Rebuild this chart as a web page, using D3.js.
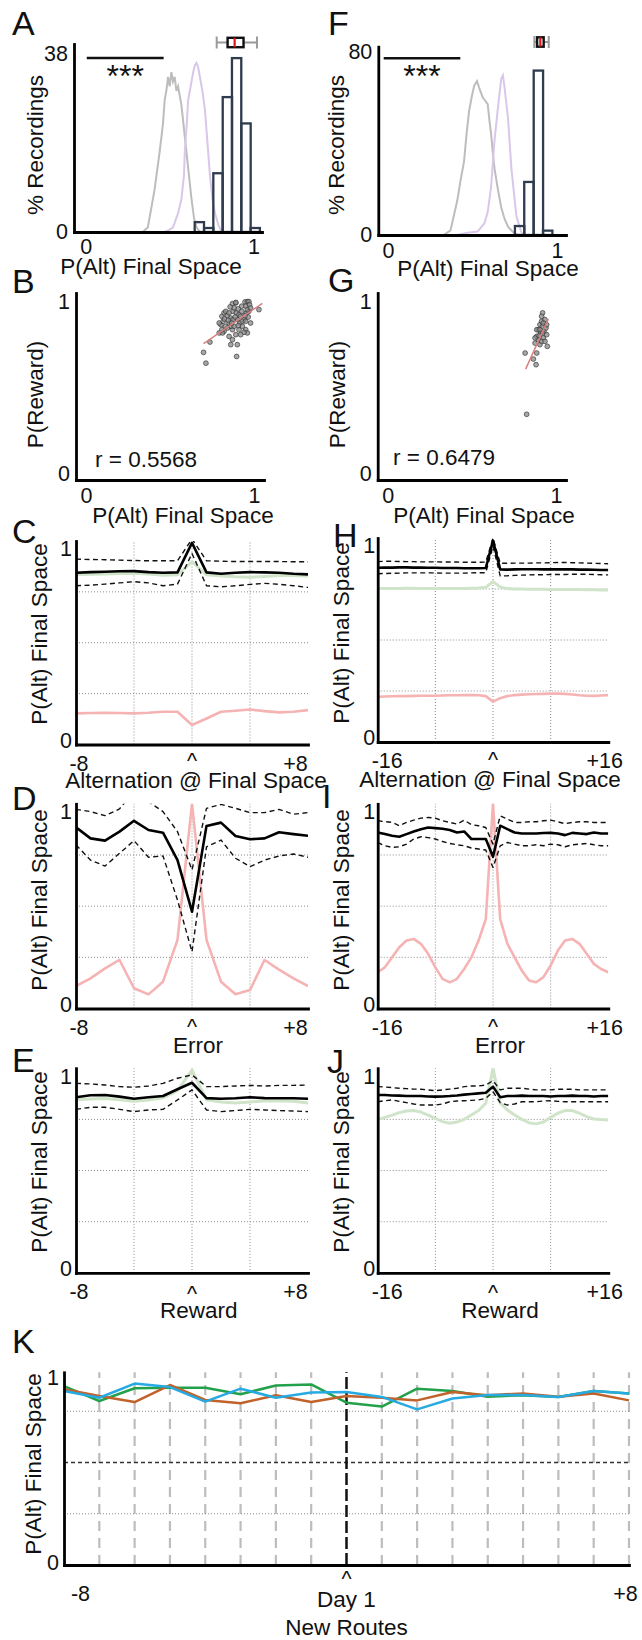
<!DOCTYPE html>
<html>
<head>
<meta charset="utf-8">
<title>P(Alt) Final Space</title>
<script src="https://cdnjs.cloudflare.com/ajax/libs/d3/7.8.5/d3.min.js"></script>
<style>
	body{margin:0;background:#fff}
</style>
</head>
<body>
<div id="fig"></div>
<script>
var FONT="'Liberation Sans', Arial, Helvetica, sans-serif"

// A / F : % recordings per P(Alt) bin
var binW=0.0555
var aBins=[0.649,0.705,0.760,0.816,0.871,0.927,0.982]
var aPct=[2.1,0.85,12.5,28.7,37,23.1,0.85]
var fBins=[0.751,0.806,0.862,0.917]
var fPct=[3.9,23.1,71.6,1.9]
var aYTicks=[0,38], fYTicks=[0,80]
var histXTicks=[0,1]
// shuffled null distributions [P(Alt), %]
var aNullGray=[[0.34,0],[0.37,1],[0.39,5],[0.41,9],[0.44,17],[0.46,23],[0.47,28],[0.48,30],[0.49,33],[0.50,31],[0.51,34],[0.52,32],[0.53,33],[0.54,30],[0.55,31],[0.56,29],[0.57,27],[0.585,22],[0.60,17],[0.615,12],[0.63,7],[0.645,3],[0.66,1],[0.68,0]]
var aNullPurple=[[0.47,0],[0.50,0.5],[0.52,1],[0.55,4],[0.57,7],[0.585,12],[0.59,17],[0.60,22],[0.61,28],[0.62,30],[0.63,32],[0.64,34],[0.65,35.5],[0.66,36],[0.67,35],[0.68,33],[0.695,30],[0.71,26],[0.725,19],[0.74,12],[0.755,7],[0.77,4],[0.79,1.5],[0.81,0]]
var fNullGray=[[0.33,0],[0.37,2],[0.41,15],[0.43,24],[0.45,32],[0.465,44],[0.48,54],[0.495,60],[0.51,65],[0.527,67],[0.54,64],[0.55,62],[0.56,60],[0.57,59],[0.58,58],[0.59,57],[0.60,50],[0.61,44],[0.62,36],[0.63,29],[0.65,20],[0.67,12],[0.69,7],[0.71,3.6],[0.75,0.5],[0.78,0]]
var fNullPurple=[[0.41,0],[0.47,1],[0.53,1.5],[0.57,5],[0.59,10],[0.61,21],[0.63,41],[0.65,55],[0.67,68],[0.68,69.5],[0.69,64],[0.71,51],[0.73,29],[0.76,8],[0.79,1],[0.81,0]]
// box: whisker lo, q1, median, q3, whisker hi
var aBox=[0.78,0.845,0.887,0.94,1.02]
var fBox=[0.866,0.882,0.901,0.921,0.951]
// significance bar: x from, x to, height (%)
var aSig=[0.006,0.464,37]
var fSig=[-0.025,0.428,77]

// B / G : P(Reward) vs P(Alt)
var bPoints=[[0.700,0.704],[0.714,0.641],[0.738,0.764],[0.793,0.817],[0.803,0.865],[0.809,0.914],[0.817,0.885],[0.822,0.934],[0.832,0.943],[0.842,0.918],[0.852,0.934],[0.862,0.904],[0.872,0.988],[0.876,0.943],[0.882,0.963],[0.892,0.992],[0.895,0.934],[0.901,0.895],[0.907,0.957],[0.911,0.924],[0.915,0.875],[0.921,0.914],[0.927,0.943],[0.931,0.856],[0.941,0.895],[0.947,0.998],[0.951,0.973],[0.955,0.934],[0.961,1.0],[0.966,0.910],[0.970,1.0],[0.974,0.982],[0.951,0.836],[0.961,0.817],[0.941,0.821],[0.921,0.807],[0.892,0.807],[0.872,0.836],[0.862,0.856],[0.852,0.875],[0.842,0.846],[0.832,0.856],[0.822,0.827],[0.813,0.817],[0.809,0.836],[0.852,0.797],[0.872,0.778],[0.862,0.749],[0.901,0.749],[0.897,0.680],[0.882,0.856],[0.911,0.836],[0.931,0.885],[0.980,0.875],[1.030,0.953],[0.951,0.885],[0.970,0.943],[0.876,0.895],[0.793,0.875],[0.824,0.899],[0.848,0.891],[0.868,0.875],[0.888,0.910],[0.907,0.860],[0.927,0.973],[0.947,0.918],[0.961,0.953],[0.980,0.963],[0.892,0.995],[0.858,0.969]]
var gPoints=[[0.921,0.934],[0.826,0.343],[0.817,0.700],[0.886,0.700],[0.866,0.665],[0.882,0.632],[0.949,0.739],[0.876,0.758],[0.886,0.797],[0.895,0.836],[0.905,0.865],[0.909,0.817],[0.915,0.885],[0.921,0.856],[0.925,0.788],[0.929,0.827],[0.935,0.895],[0.941,0.846],[0.945,0.807],[0.895,0.778],[0.905,0.749],[0.915,0.768],[0.935,0.768],[0.876,0.788],[0.886,0.836],[0.915,0.914],[0.925,0.875],[0.901,0.801],[0.945,0.865],[0.921,0.817],[0.905,0.836]]
var bFit=[0.67,0.286], gFit=[2.17,-1.173]   // slope, intercept
var bFitX=[0.70,1.05], gFitX=[0.82,0.955]
var bR='r = 0.5568', gR='r = 0.6479'
var scatTicks=[0,1]

// C..J : P(Alt) around an event, lag in trials
var lags8=[-8,-7,-6,-5,-4,-3,-2,-1,0,1,2,3,4,5,6,7,8]
var lags16=[-16,-15,-14,-13,-12,-11,-10,-9,-8,-7,-6,-5,-4,-3,-2,-1,0,1,2,3,4,5,6,7,8,9,10,11,12,13,14,15,16]
var traceYTicks=[0,1]
var hGridY=[0.25,0.5,0.75]

var cBlack=[0.844,0.847,0.849,0.851,0.852,0.847,0.844,0.846,0.991,0.846,0.839,0.844,0.847,0.846,0.844,0.839,0.836]
var cUpper=[0.911,0.909,0.908,0.906,0.904,0.903,0.903,0.903,1.01,0.903,0.901,0.899,0.899,0.899,0.899,0.898,0.898]
var cLower=[0.780,0.783,0.788,0.794,0.800,0.794,0.780,0.788,0.939,0.780,0.775,0.780,0.787,0.792,0.787,0.780,0.772]
var cGreen=[0.835,0.836,0.838,0.840,0.842,0.838,0.832,0.834,0.898,0.834,0.828,0.824,0.822,0.826,0.830,0.830,0.828]
var cPink=[0.153,0.155,0.156,0.155,0.153,0.156,0.161,0.161,0.096,0.128,0.161,0.166,0.172,0.164,0.158,0.161,0.169]

var dBlack=[0.885,0.831,0.820,0.864,0.917,0.872,0.859,0.725,0.473,0.892,0.908,0.843,0.827,0.831,0.861,0.852,0.844]
var dUpper=[0.973,0.962,0.942,0.975,1.06,1.01,0.962,0.864,0.677,0.978,0.997,0.978,0.957,0.957,0.973,0.949,0.957]
var dLower=[0.799,0.725,0.696,0.758,0.820,0.739,0.745,0.530,0.277,0.790,0.823,0.734,0.693,0.725,0.745,0.755,0.739]
var dPink=[0.110,0.147,0.196,0.237,0.099,0.069,0.131,0.335,1.0,0.335,0.131,0.070,0.090,0.237,0.190,0.147,0.110]

var eBlack=[0.858,0.868,0.869,0.861,0.851,0.858,0.864,0.897,0.929,0.854,0.851,0.853,0.858,0.854,0.853,0.853,0.851]
var eUpper=[0.926,0.923,0.918,0.910,0.907,0.913,0.926,0.951,0.967,0.910,0.910,0.913,0.916,0.913,0.916,0.916,0.918]
var eLower=[0.799,0.809,0.809,0.799,0.788,0.796,0.799,0.845,0.894,0.796,0.788,0.793,0.799,0.796,0.793,0.791,0.788]
var eGreen=[0.846,0.850,0.852,0.846,0.838,0.845,0.855,0.890,0.991,0.846,0.835,0.830,0.835,0.840,0.840,0.838,0.830]

var hBlack=[0.854,0.855,0.855,0.856,0.856,0.855,0.855,0.854,0.854,0.853,0.853,0.853,0.852,0.852,0.852,0.853,0.987,0.846,0.845,0.846,0.847,0.847,0.847,0.846,0.846,0.847,0.846,0.846,0.845,0.845,0.844,0.843,0.843]
var hUpper=[0.884,0.886,0.886,0.885,0.884,0.884,0.883,0.883,0.883,0.882,0.882,0.882,0.881,0.881,0.881,0.882,1.0,0.876,0.876,0.877,0.877,0.877,0.878,0.878,0.879,0.880,0.880,0.879,0.878,0.877,0.876,0.875,0.874]
var hLower=[0.825,0.826,0.827,0.828,0.829,0.829,0.829,0.829,0.829,0.828,0.828,0.828,0.828,0.829,0.830,0.830,0.96,0.814,0.815,0.817,0.818,0.819,0.820,0.820,0.821,0.821,0.821,0.822,0.822,0.822,0.821,0.820,0.819]
var hGreen=[0.752,0.752,0.753,0.753,0.754,0.754,0.753,0.753,0.752,0.752,0.752,0.753,0.753,0.754,0.755,0.758,0.786,0.760,0.752,0.750,0.750,0.749,0.749,0.749,0.748,0.748,0.748,0.747,0.747,0.746,0.746,0.745,0.745]
var hPink=[0.222,0.223,0.224,0.225,0.225,0.226,0.227,0.227,0.227,0.228,0.229,0.229,0.230,0.230,0.229,0.225,0.198,0.215,0.225,0.230,0.232,0.234,0.235,0.236,0.237,0.237,0.236,0.233,0.229,0.227,0.226,0.228,0.230]

var iBlack=[0.860,0.852,0.844,0.839,0.852,0.865,0.876,0.884,0.881,0.878,0.872,0.860,0.865,0.828,0.828,0.828,0.741,0.893,0.876,0.860,0.855,0.855,0.855,0.857,0.858,0.855,0.847,0.858,0.855,0.852,0.860,0.855,0.855]
var iUpper=[0.917,0.913,0.909,0.893,0.909,0.920,0.930,0.933,0.930,0.917,0.909,0.901,0.920,0.898,0.893,0.884,0.803,0.941,0.925,0.909,0.909,0.912,0.912,0.917,0.920,0.912,0.903,0.909,0.912,0.912,0.909,0.909,0.909]
var iLower=[0.811,0.795,0.787,0.790,0.803,0.828,0.839,0.835,0.828,0.816,0.806,0.800,0.795,0.784,0.779,0.774,0.689,0.795,0.811,0.803,0.795,0.795,0.800,0.795,0.803,0.800,0.790,0.800,0.803,0.806,0.800,0.795,0.795]
var iPink=[0.177,0.201,0.250,0.299,0.332,0.340,0.316,0.267,0.201,0.145,0.128,0.145,0.193,0.250,0.332,0.437,1.0,0.437,0.316,0.250,0.185,0.137,0.128,0.153,0.210,0.283,0.332,0.340,0.316,0.267,0.218,0.193,0.177]

var jBlack=[0.869,0.869,0.867,0.866,0.864,0.864,0.864,0.862,0.861,0.862,0.864,0.867,0.871,0.874,0.877,0.880,0.910,0.858,0.864,0.864,0.866,0.864,0.864,0.864,0.862,0.864,0.864,0.866,0.864,0.864,0.862,0.864,0.864]
var jUpper=[0.910,0.908,0.905,0.902,0.900,0.898,0.897,0.894,0.890,0.894,0.898,0.902,0.910,0.913,0.913,0.918,0.939,0.894,0.902,0.902,0.902,0.898,0.894,0.894,0.894,0.897,0.897,0.897,0.894,0.894,0.894,0.894,0.894]
var jLower=[0.836,0.841,0.845,0.838,0.832,0.825,0.820,0.820,0.820,0.825,0.836,0.840,0.841,0.843,0.845,0.853,0.885,0.832,0.820,0.825,0.836,0.836,0.836,0.840,0.841,0.838,0.836,0.836,0.836,0.836,0.836,0.836,0.836]
var jGreen=[0.750,0.760,0.771,0.783,0.791,0.793,0.786,0.771,0.755,0.739,0.731,0.737,0.750,0.771,0.793,0.829,0.999,0.829,0.796,0.771,0.750,0.734,0.728,0.737,0.760,0.780,0.793,0.793,0.780,0.763,0.752,0.749,0.747]

// K : three animals around the first day of new routes
var kGreen=[0.873,0.800,0.862,0.865,0.865,0.833,0.876,0.881,0.792,0.773,0.860,0.849,0.821,0.828,0.820,0.849,0.837]
var kOrange=[0.857,0.824,0.795,0.878,0.805,0.789,0.828,0.795,0.824,0.816,0.803,0.844,0.828,0.837,0.821,0.837,0.803]
var kBlue=[0.849,0.816,0.885,0.868,0.797,0.860,0.816,0.841,0.844,0.820,0.759,0.812,0.829,0.829,0.820,0.849,0.837]

var styles={
	mean:{stroke:'#000',w:2.6,dash:null},
	dash:{stroke:'#111',w:1.4,dash:'5,3.5'},
	pink:{stroke:'#f5b3b3',w:2.6,dash:null},
	green:{stroke:'#cfe4c8',w:3,dash:null}
}

var svg=d3.select('#fig').append('svg')
	.attr('width',642).attr('height',1640)
	.attr('font-family',FONT)
	.style('background','#fff')

function txt(g,x,y,s,size,anchor){
	return g.append('text').attr('x',x).attr('y',y)
		.attr('font-size',size).attr('text-anchor',anchor||'middle')
		.attr('fill','#111').text(s)
}
function ylab(g,cx,cy,s){
	g.append('text').attr('transform','translate('+cx+','+cy+') rotate(-90)')
		.attr('text-anchor','middle').attr('dy','0.26em')
		.attr('font-size',22.5).attr('fill','#111').text(s)
}
function styleAxis(sel){
	sel.attr('font-size',21.5).attr('font-family',FONT)
	sel.select('.domain').attr('stroke','#000').attr('stroke-width',2.8).attr('stroke-linecap','square')
	sel.selectAll('text').attr('fill','#111')
}
function signed(d){ return d>0 ? '+'+d : String(d) }

var draw={
	hist:function(p){
		var g=svg.append('g')
		var x=d3.scaleLinear().domain(p.xd).range([p.x0,p.x1])
		var y=d3.scaleLinear().domain(p.yd).range([p.y0,p.y1])
		var ln=d3.line().x(function(d){return x(d[0])}).y(function(d){return y(d[1])})
		g.append('path').attr('d',ln(p.gray)).attr('fill','none').attr('stroke','#bdbdbd').attr('stroke-width',2)
		g.append('path').attr('d',ln(p.purple)).attr('fill','none').attr('stroke','#d9c7e9').attr('stroke-width',2)
		g.selectAll('rect.bar').data(p.pct).enter().append('rect').attr('class','bar')
			.attr('x',function(d,i){return x(p.bins[i])})
			.attr('width',function(d,i){return x(p.bins[i]+binW)-x(p.bins[i])})
			.attr('y',function(d){return y(d)})
			.attr('height',function(d){return y(0)-y(d)})
			.attr('fill','none').attr('stroke','#2e3c4d').attr('stroke-width',2.3)

		var ya=g.append('g').attr('transform','translate('+p.x0+',0)')
			.call(d3.axisLeft(y).tickValues(p.yticks).tickSize(0).tickPadding(6).tickFormat(String))
		var xa=g.append('g').attr('transform','translate(0,'+p.y0+')')
			.call(d3.axisBottom(x).tickValues(histXTicks).tickSize(0).tickPadding(p.xpad).tickFormat(String))
		styleAxis(ya); styleAxis(xa)

		// box plot over the histogram
		var b=p.box, by=p.boxY
		g.append('line').attr('x1',x(b[0])).attr('x2',x(b[4])).attr('y1',by).attr('y2',by)
			.attr('stroke','#9a9a9a').attr('stroke-width',2)
		g.selectAll('line.cap').data([b[0],b[4]]).enter().append('line').attr('class','cap')
			.attr('x1',function(d){return x(d)}).attr('x2',function(d){return x(d)})
			.attr('y1',by-6).attr('y2',by+6).attr('stroke','#9a9a9a').attr('stroke-width',2)
		g.append('rect').attr('x',x(b[1])).attr('width',x(b[3])-x(b[1]))
			.attr('y',by-4.7).attr('height',9.4)
			.attr('fill','#fff').attr('stroke','#111').attr('stroke-width',2.4)
		g.append('line').attr('x1',x(b[2])).attr('x2',x(b[2])).attr('y1',by-4.7).attr('y2',by+4.7)
			.attr('stroke','#e3141b').attr('stroke-width',2.2)

		// significance
		g.append('line').attr('x1',x(p.sig[0])).attr('x2',x(p.sig[1]))
			.attr('y1',y(p.sig[2])).attr('y2',y(p.sig[2]))
			.attr('stroke','#111').attr('stroke-width',2.5)
		txt(g,(x(p.sig[0])+x(p.sig[1]))/2,y(p.sig[2])+29,'***',32)

		txt(g,p.xlabX,p.xlabY,'P(Alt) Final Space',22.5)
		ylab(g,p.ylabX,p.ylabY,'% Recordings')
	},
	scatter:function(p){
		var g=svg.append('g')
		var x=d3.scaleLinear().domain([-0.06,1.06]).range([p.x0,p.x1])
		var y=d3.scaleLinear().domain([-0.04,1.05]).range([480,293])
		g.selectAll('circle').data(p.pts).enter().append('circle')
			.attr('cx',function(d){return x(d[0])}).attr('cy',function(d){return y(d[1])})
			.attr('r',2.4).attr('fill','#8a8a8a').attr('fill-opacity',0.75)
			.attr('stroke','#3a3a3a').attr('stroke-width',0.7)
		g.append('line')
			.attr('x1',x(p.fitX[0])).attr('y1',y(p.fit[0]*p.fitX[0]+p.fit[1]))
			.attr('x2',x(p.fitX[1])).attr('y2',y(p.fit[0]*p.fitX[1]+p.fit[1]))
			.attr('stroke','#d98080').attr('stroke-width',1.5)
		var ya=g.append('g').attr('transform','translate('+p.x0+',0)')
			.call(d3.axisLeft(y).tickValues(scatTicks).tickSize(0).tickPadding(6).tickFormat(String))
		var xa=g.append('g').attr('transform','translate(0,480)')
			.call(d3.axisBottom(x).tickValues(scatTicks).tickSize(0).tickPadding(8).tickFormat(String))
		styleAxis(ya); styleAxis(xa)
		txt(g,p.rX,p.rY,p.r,22.5,'start')
		txt(g,p.xlabX,522.5,'P(Alt) Final Space',22.5)
		ylab(g,p.ylabX,394.5,'P(Reward)')
	},
	trace:function(p){
		var g=svg.append('g')
		var lags=p.lags, lo=lags[0], hi=lags[lags.length-1]
		var x=d3.scaleLinear().domain([lo,hi]).range([p.x0,p.x1])
		var y=d3.scaleLinear().domain([0,1]).range([p.y0,p.y1])
		svg.append('clipPath').attr('id','clip'+p.id).append('rect')
			.attr('x',p.x0).attr('y',p.y1).attr('width',p.x1-p.x0).attr('height',p.y0-p.y1)

		g.selectAll('line.hg').data(hGridY).enter().append('line').attr('class','hg')
			.attr('x1',p.x0).attr('x2',p.x1)
			.attr('y1',function(d){return y(d)}).attr('y2',function(d){return y(d)})
			.attr('stroke','#8c8c8c').attr('stroke-width',1).attr('stroke-dasharray','1,2')
		g.selectAll('line.vg').data([lo/2,0,hi/2]).enter().append('line').attr('class','vg')
			.attr('x1',function(d){return x(d)}).attr('x2',function(d){return x(d)})
			.attr('y1',p.y0).attr('y2',p.y1)
			.attr('stroke','#8c8c8c').attr('stroke-width',1).attr('stroke-dasharray','1,2')

		var line=d3.line().x(function(d,i){return x(lags[i])}).y(function(d){return y(d)})
		var lines=g.append('g').attr('clip-path','url(#clip'+p.id+')')
		p.series.forEach(function(s){
			var st=styles[s[1]]
			lines.append('path').attr('d',line(s[0])).attr('fill','none')
				.attr('stroke',st.stroke).attr('stroke-width',st.w)
				.attr('stroke-dasharray',st.dash).attr('stroke-linejoin','round')
		})

		var ya=g.append('g').attr('transform','translate('+p.x0+',0)')
			.call(d3.axisLeft(y).tickValues(traceYTicks).tickSize(0).tickPadding(p.ypad).tickFormat(String))
		var xa=g.append('g').attr('transform','translate(0,'+p.y0+')')
			.call(d3.axisBottom(x).tickValues([lo,hi]).tickSize(0).tickPadding(11).tickFormat(signed))
		styleAxis(ya); styleAxis(xa)
		ya.selectAll('text').attr('dy',function(d){return d ? '0.69em' : '0.13em'})
		xa.selectAll('text').attr('dx',function(d){return d<0 ? p.dxL : p.dxR})

		txt(g,x(0),p.caretY,'^',21.5)
		txt(g,p.xlabX,p.xlabY,p.xlab,22.5)
		ylab(g,p.ylabX,p.ylabY,'P(Alt) Final Space')
	},
	routes:function(){
		var g=svg.append('g')
		var x=d3.scaleLinear().domain([-8,8]).range([64,629])
		var y=d3.scaleLinear().domain([0,1]).range([1565,1360])
		var top=0.94
		g.selectAll('line.day').data(lags8.filter(function(d){return d>-8 && d!==0})).enter().append('line').attr('class','day')
			.attr('x1',function(d){return x(d)}).attr('x2',function(d){return x(d)})
			.attr('y1',y(0)).attr('y2',y(top))
			.attr('stroke','#bdbdbd').attr('stroke-width',2.2).attr('stroke-dasharray','10,7')
		g.selectAll('line.hg').data(hGridY).enter().append('line').attr('class','hg')
			.attr('x1',x(-8)).attr('x2',x(8))
			.attr('y1',function(d){return y(d)}).attr('y2',function(d){return y(d)})
			.attr('stroke',function(d){return d===0.5 ? '#333' : '#8c8c8c'})
			.attr('stroke-width',function(d){return d===0.5 ? 1.4 : 1})
			.attr('stroke-dasharray',function(d){return d===0.5 ? '4,3' : '1,2'})
		g.append('line').attr('x1',x(0)).attr('x2',x(0)).attr('y1',y(0)).attr('y2',y(top))
			.attr('stroke','#111').attr('stroke-width',2.5).attr('stroke-dasharray','12,4')

		var line=d3.line().x(function(d,i){return x(lags8[i])}).y(function(d){return y(d)})
		;[[kGreen,'#23a14a'],[kOrange,'#c1622b'],[kBlue,'#27aae1']].forEach(function(s){
			g.append('path').attr('d',line(s[0])).attr('fill','none')
				.attr('stroke',s[1]).attr('stroke-width',2.5).attr('stroke-linejoin','round')
		})

		var yAx=d3.scaleLinear().domain([0,top]).range([y(0),y(top)])
		var ya=g.append('g').attr('transform','translate(64,0)')
			.call(d3.axisLeft(yAx).tickValues([0,top]).tickSize(0).tickPadding(5)
				.tickFormat(function(d){return d ? '1' : '0'}))
		var xa=g.append('g').attr('transform','translate(0,'+y(0)+')')
			.call(d3.axisBottom(x).tickValues([-8,8]).tickSize(0).tickPadding(20.5).tickFormat(signed))
		styleAxis(ya); styleAxis(xa)
		ya.selectAll('text').attr('dy',function(d){return d ? '0.55em' : '0.22em'})
		xa.selectAll('text').attr('dx',function(d){return d<0 ? 16 : -4})

		txt(g,x(0),1586,'^',21.5)
		txt(g,x(0),1607,'Day 1',22.5)
		txt(g,x(0),1635,'New Routes',22.5)
		ylab(g,35,1464,'P(Alt) Final Space')
	}
}

draw.hist({x0:74,x1:262,y0:232,y1:44,xd:[-0.07,1.05],yd:[0,40],bins:aBins,pct:aPct,yticks:aYTicks,
	gray:aNullGray,purple:aNullPurple,box:aBox,boxY:42.5,sig:aSig,xpad:7,xlabX:151,xlabY:274,ylabX:37,ylabY:145})
draw.hist({x0:378.3,x1:566,y0:235,y1:46.7,xd:[-0.057,1.053],yd:[0,82],bins:fBins,pct:fPct,yticks:fYTicks,
	gray:fNullGray,purple:fNullPurple,box:fBox,boxY:42,sig:fSig,xpad:8,xlabX:488,xlabY:276,ylabX:338.5,ylabY:145})

draw.scatter({x0:76,x1:264,pts:bPoints,fit:bFit,fitX:bFitX,r:bR,rX:95,rY:467,xlabX:183,ylabX:37})
draw.scatter({x0:377.7,x1:566,pts:gPoints,fit:gFit,fitX:gFitX,r:gR,rX:393,rY:465,xlabX:484,ylabX:339})

var left={x0:76,x1:308,lags:lags8,ypad:4,dxL:2.5,dxR:-13,ylabX:41}
var right={x0:377.7,x1:608.3,lags:lags16,ypad:2.5,dxL:9,dxR:-4,ylabX:343.5}
var traces=[
	[left,{id:'C',y0:744.5,y1:541,series:[[cPink,'pink'],[cGreen,'green'],[cLower,'dash'],[cUpper,'dash'],[cBlack,'mean']],
		xlab:'Alternation @ Final Space',xlabX:196,xlabY:788,caretY:768,ylabY:634}],
	[right,{id:'H',y0:742,y1:538,series:[[hPink,'pink'],[hGreen,'green'],[hLower,'dash'],[hUpper,'dash'],[hBlack,'mean']],
		xlab:'Alternation @ Final Space',xlabX:490,xlabY:787,caretY:767,ylabY:633}],
	[left,{id:'D',y0:1008.5,y1:803.8,series:[[dPink,'pink'],[dLower,'dash'],[dUpper,'dash'],[dBlack,'mean']],
		xlab:'Error',xlabX:198,xlabY:1053,caretY:1034,ylabY:900}],
	[right,{id:'I',y0:1008.5,y1:803.8,series:[[iPink,'pink'],[iLower,'dash'],[iUpper,'dash'],[iBlack,'mean']],
		xlab:'Error',xlabX:500,xlabY:1053,caretY:1034,ylabY:900}],
	[left,{id:'E',y0:1272.9,y1:1068.2,series:[[eGreen,'green'],[eLower,'dash'],[eUpper,'dash'],[eBlack,'mean']],
		xlab:'Reward',xlabX:198.7,xlabY:1318,caretY:1301,ylabY:1162}],
	[right,{id:'J',y0:1272.9,y1:1068.2,series:[[jGreen,'green'],[jLower,'dash'],[jUpper,'dash'],[jBlack,'mean']],
		xlab:'Reward',xlabX:500,xlabY:1318,caretY:1300,ylabY:1162}]
]
traces.forEach(function(t){ draw.trace(Object.assign({},t[0],t[1])) })

draw.routes()

// panel letters
var letters=[['A',12,35],['F',328,35],['B',12,293],['G',328,292],['C',12,543],['H',333,547],
	['D',12,810],['I',322,808],['E',12,1072],['J',327,1073],['K',12,1353]]
letters.forEach(function(l){ txt(svg,l[1],l[2],l[0],34,'start') })
console.log('figura lista')
</script>
</body>
</html>
